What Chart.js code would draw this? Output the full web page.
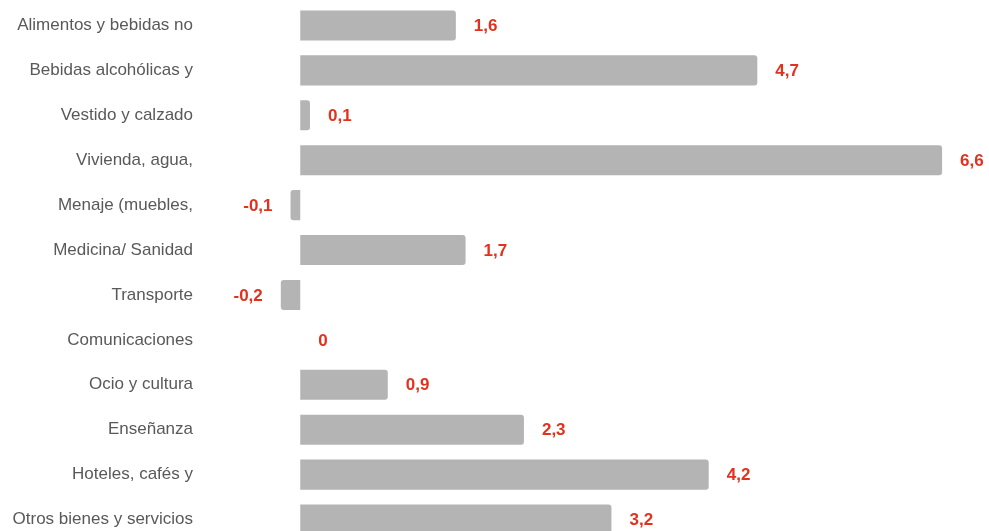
<!DOCTYPE html>
<html>
<head>
<meta charset="utf-8">
<script src="https://cdn.jsdelivr.net/npm/chart.js@4"></script>
<style>
    html, body { margin: 0; padding: 0; background: #fff; overflow: hidden; }
    #wrap { position: absolute; left: 0; top: 0; width: 989px; height: 542px; }
</style>
</head>
<body>
<div id="wrap"><canvas id="chart"></canvas></div>
<script>
const categories = [
    "Alimentos y bebidas no",
    "Bebidas alcohólicas y",
    "Vestido y calzado",
    "Vivienda, agua,",
    "Menaje (muebles,",
    "Medicina/ Sanidad",
    "Transporte",
    "Comunicaciones",
    "Ocio y cultura",
    "Enseñanza",
    "Hoteles, cafés y",
    "Otros bienes y servicios"
];
const values = [1.6, 4.7, 0.1, 6.6, -0.1, 1.7, -0.2, 0, 0.9, 2.3, 4.2, 3.2];

const fmt = v => String(v).replace(".", ",");

// red value next to each bar
const valueLabels = {
    id: "valueLabels",
    afterDatasetsDraw(chart) {
        const ctx = chart.ctx,
            meta = chart.getDatasetMeta(0),
            zero = chart.scales.x.getPixelForValue(0);
        ctx.save();
        ctx.font = "bold 17px 'Liberation Sans', Arial";
        ctx.fillStyle = "#e2311d";
        ctx.textBaseline = "middle";
        meta.data.forEach((bar, i) => {
            const v = values[i];
            if (v < 0) {
                ctx.textAlign = "right";
                ctx.fillText(fmt(v), Math.min(bar.x, zero) - 18, bar.y + 1);
            } else {
                ctx.textAlign = "left";
                ctx.fillText(fmt(v), Math.max(bar.x, zero) + 18, bar.y + 1);
            }
        });
        ctx.restore();
    }
};

new Chart(document.getElementById("chart"), {
    type: "bar",
    data: {
        labels: categories,
        datasets: [{
            data: values,
            backgroundColor: "#b4b4b4",
            borderWidth: 0,
            borderRadius: 3,
            categoryPercentage: 1,
            barPercentage: 0.668
        }]
    },
    options: {
        indexAxis: "y",
        responsive: true,
        maintainAspectRatio: false,
        animation: false,
        layout: { padding: { top: 3, right: 8, bottom: 0, left: 0 } },
        plugins: {
            legend: { display: false },
            tooltip: { enabled: false }
        },
        scales: {
            x: {
                display: false,
                min: -1,
                max: 7
            },
            y: {
                grid: { display: false, drawTicks: false },
                border: { display: false },
                ticks: {
                    padding: 10,
                    color: "#595959",
                    font: { family: "'Liberation Sans', Arial", size: 17 }
                },
                afterFit: s => {
                    s.width = 203;
                    s.paddingTop = 0;
                    s.paddingBottom = 0;
                }
            }
        }
    },
    plugins: [valueLabels]
});
</script>
</body>
</html>
